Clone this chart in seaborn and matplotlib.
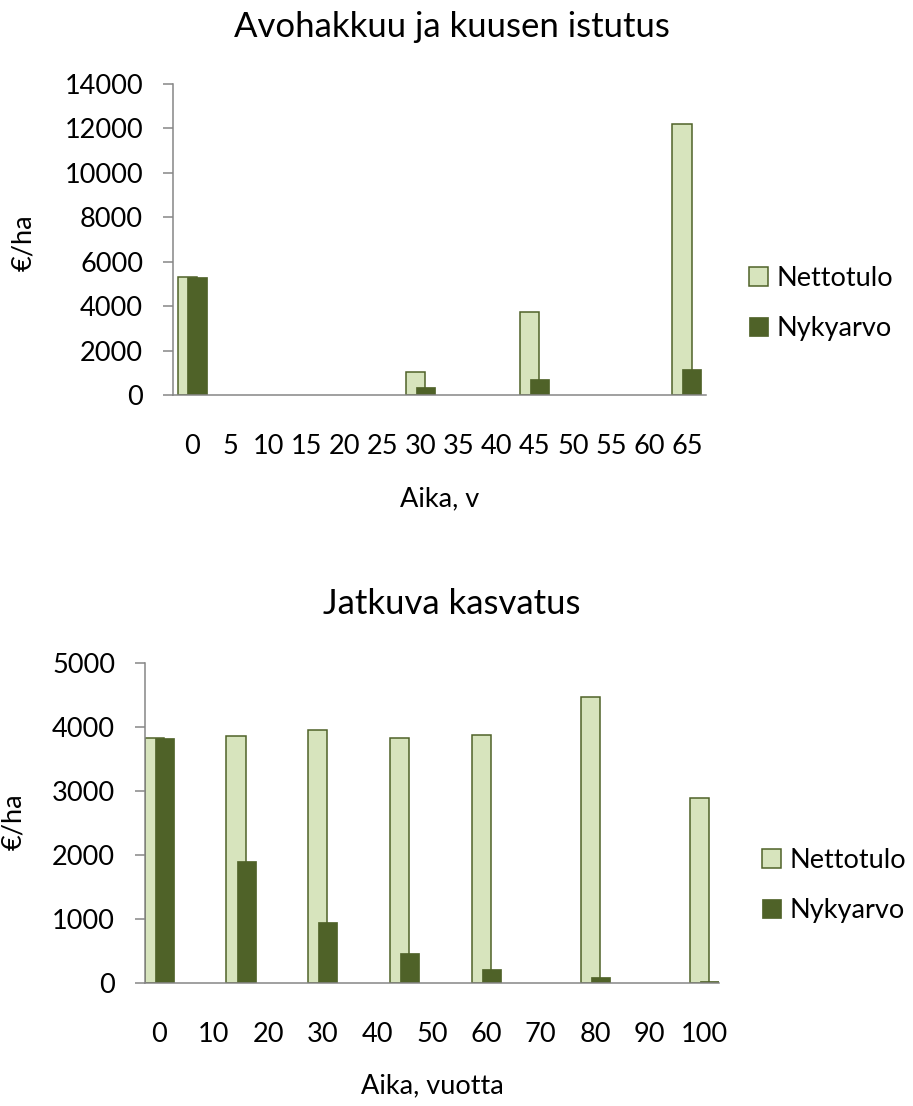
import numpy as np
import pandas as pd
import matplotlib
matplotlib.use("Agg")
import matplotlib.pyplot as plt
import seaborn as sns

# ---- Avohakkuu ja kuusen istutus (€/ha by year) ----
years_clearcut = [0, 5, 10, 15, 20, 25, 30, 35, 40, 45, 50, 55, 60, 65]
netto_clearcut = [5300, np.nan, np.nan, np.nan, np.nan, np.nan, 1050,
                  np.nan, np.nan, 3750, np.nan, np.nan, np.nan, 12200]
nyky_clearcut = [5300, np.nan, np.nan, np.nan, np.nan, np.nan, 370,
                 np.nan, np.nan, 720, np.nan, np.nan, np.nan, 1170]
yticks_clearcut = [0, 2000, 4000, 6000, 8000, 10000, 12000, 14000]

# ---- Jatkuva kasvatus (€/ha by year) ----
years_ccf = [0, 15, 30, 45, 60, 80, 100]
netto_ccf = [3820, 3850, 3950, 3820, 3880, 4470, 2890]
nyky_ccf = [3820, 1900, 960, 470, 220, 95, 30]
xticks_ccf = [0, 10, 20, 30, 40, 50, 60, 70, 80, 90, 100]
yticks_ccf = [0, 1000, 2000, 3000, 4000, 5000]

series_names = ["Nettotulo", "Nykyarvo"]
titles = ["Avohakkuu ja kuusen istutus", "Jatkuva kasvatus"]
xlabels = ["Aika, v", "Aika, vuotta"]
ylabel = "€/ha"

LIGHT = "#D7E4BD"
DARK = "#4F6228"
GREY = "#868686"

W, H = 913, 1106
sns.set_theme(style="white")
plt.rcParams["font.family"] = ["Lato", "DejaVu Sans"]
plt.rcParams["text.color"] = "black"

FS = 19.5      # tick, axis label and legend size (pt)
TFS = 25       # title size (pt)


def fx(px):
    return px / W


def fy(py):
    return 1 - py / H


fig = plt.figure(figsize=(W / 100, H / 100), dpi=100)
ax1 = fig.add_axes([fx(173), fy(395), (706 - 173) / W, (395 - 84) / H])
ax2 = fig.add_axes([fx(145), fy(983.3), (719 - 145) / W, (983.3 - 662.7) / H])


def draw_pair(ax, pos, netto, nyky, shift, width):
    pos = np.asarray(pos, dtype=float)
    df = pd.DataFrame({"pos": pos, series_names[0]: netto, series_names[1]: nyky})
    sns.barplot(x=df["pos"] - shift, y=df[series_names[0]], native_scale=True,
                width=width, color=LIGHT, saturation=1, edgecolor=DARK,
                linewidth=1.1, errorbar=None, label=series_names[0], ax=ax)
    sns.barplot(x=df["pos"] + shift, y=df[series_names[1]], native_scale=True,
                width=width, color=DARK, saturation=1, edgecolor=DARK,
                linewidth=0.5, errorbar=None, label=series_names[1], ax=ax)


# top: category axis, bars half a category wide, overlapping by half
cat_pos = np.arange(len(years_clearcut))
draw_pair(ax1, cat_pos, netto_clearcut, nyky_clearcut, shift=0.13, width=0.5)
ax1.set_xlim(-0.5, len(years_clearcut) - 0.5)
ax1.set_xticks(cat_pos)
ax1.set_xticklabels([str(v) for v in years_clearcut])
ax1.set_ylim(yticks_clearcut[0], yticks_clearcut[-1])
ax1.set_yticks(yticks_clearcut)
ax1.set_yticklabels([str(v) for v in yticks_clearcut])

# bottom: time axis in years, bars 3.5 years wide
bar_years = 3.5
min_gap = np.min(np.diff(years_ccf))
draw_pair(ax2, years_ccf, netto_ccf, nyky_ccf, shift=0.92, width=bar_years / min_gap)
ax2.set_xlim(-2.62, 102.7)
ax2.set_xticks(xticks_ccf)
ax2.set_xticklabels([str(v) for v in xticks_ccf])
ax2.set_ylim(yticks_ccf[0], yticks_ccf[-1])
ax2.set_yticks(yticks_ccf)
ax2.set_yticklabels([str(v) for v in yticks_ccf])

for ax in (ax1, ax2):
    ax.set_xlabel("")
    ax.set_ylabel("")
    ax.set_facecolor("white")
    for side in ("top", "right"):
        ax.spines[side].set_visible(False)
    for side in ("left", "bottom"):
        ax.spines[side].set_color(GREY)
        ax.spines[side].set_linewidth(1.1)
        ax.spines[side].set_zorder(5)
    ax.tick_params(axis="y", which="major", left=True, direction="out",
                   length=7.2, width=1.1, color=GREY, pad=14.4,
                   labelsize=FS, labelcolor="black")
    ax.tick_params(axis="x", which="major", bottom=True, length=0,
                   pad=28, labelsize=FS, labelcolor="black")
    ax.grid(False)

# titles
fig.text(fx(452), fy(37), titles[0], ha="center", va="baseline", fontsize=TFS)
fig.text(fx(452), fy(614), titles[1], ha="center", va="baseline", fontsize=TFS)

# axis labels
fig.text(fx(439.5), fy(499), xlabels[0], ha="center", va="center", fontsize=FS)
fig.text(fx(432), fy(1086), xlabels[1], ha="center", va="center", fontsize=FS)
fig.text(fx(23.5), fy(242.5), ylabel, ha="center", va="center", rotation=90, fontsize=FS)
fig.text(fx(14), fy(821.5), ylabel, ha="center", va="center", rotation=90, fontsize=FS)

# legends
for ax, yc, xl in ((ax1, 303.5, 749), (ax2, 885.5, 762)):
    handles, labels = ax.get_legend_handles_labels()
    ax.legend(handles, labels, loc="center left",
              bbox_to_anchor=(fx(xl), fy(yc)), bbox_transform=fig.transFigure,
              frameon=False, borderpad=0, borderaxespad=0,
              handlelength=0.7, handleheight=0.7, handletextpad=0.33,
              labelspacing=0.95, fontsize=FS)

fig.savefig("out.png", dpi=100, facecolor="white")
